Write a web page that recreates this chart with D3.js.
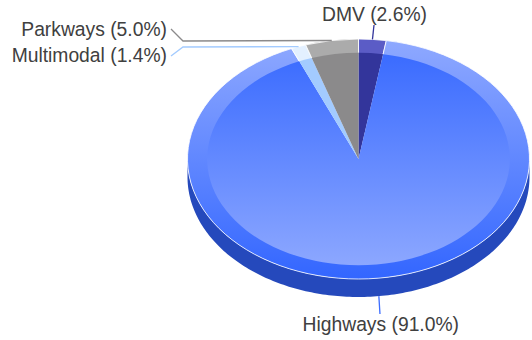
<!DOCTYPE html>
<html>
<head>
<meta charset="utf-8">
<script src="https://cdn.jsdelivr.net/npm/d3@7/dist/d3.min.js"></script>
<style>
  html, body { margin: 0; padding: 0; background: #fff; }
  svg { display: block; }
  text { font-family: "Liberation Sans", Arial, sans-serif; font-size: 19.3px; fill: #404040; }
</style>
</head>
<body>
<div id="chart"></div>
<script>
// values are in percent, clockwise from 12 o'clock
var categories = ["DMV", "Highways", "Multimodal", "Parkways"];
var shares = [2.6, 91.0, 1.4, 5.0];

var topColors = ["#5b5cc6", null, "#e3f0ff", "#ababab"];
var innerColors = ["#33359b", null, "#a3cbff", "#8b8a8b"];
var lineColors = ["#33359b", "#3d6dff", "#a3cbff", "#8b8a8b"];

var width = 532, height = 340;
var cx = 358.5, cy = 159, rx = 171, ry = 120, depth = 18, bevel = 0.885;

var svg = d3.select("#chart").append("svg")
    .attr("width", width)
    .attr("height", height);

// gradients for the big slice, rim runs opposite to the inner part
var defs = svg.append("defs");
function addGradient(id, c0, c1, y0, y1) {
  var g = defs.append("linearGradient")
      .attr("id", id)
      .attr("gradientUnits", "userSpaceOnUse")
      .attr("x1", 0).attr("x2", 0)
      .attr("y1", y0).attr("y2", y1);
  g.append("stop").attr("offset", 0).attr("stop-color", c0);
  g.append("stop").attr("offset", 1).attr("stop-color", c1);
}
// coordinates are the ones inside the squashed group
addGradient("rimGrad", "#8fa9ff", "#3366ff", -rx, rx);
addGradient("innerGrad", "#3a6bff", "#8ca7ff", -rx * bevel, rx * bevel);

var pie = d3.pie().sort(null).value(function(d) { return d; });
var arcs = pie(shares);

// side wall, only the front half of the ellipse shows
var wall = d3.area()
    .x(function(t) { return cx + rx * Math.cos(t); })
    .y0(function(t) { return cy + ry * Math.sin(t); })
    .y1(function(t) { return cy + depth + ry * Math.sin(t); });

svg.append("path")
    .attr("d", wall(d3.range(0, 181).map(function(a) { return a * Math.PI / 180; })))
    .attr("fill", "#2549bc");

// pie is drawn as a circle and squashed to the tilt
var tilt = svg.append("g")
    .attr("transform", "translate(" + cx + "," + cy + ") scale(1," + (ry / rx) + ")");

var outerArc = d3.arc().innerRadius(0).outerRadius(rx);
var innerArc = d3.arc().innerRadius(0).outerRadius(rx * bevel);

tilt.selectAll(".rim")
    .data(arcs)
    .enter().append("path")
    .attr("class", "rim")
    .attr("d", outerArc)
    .attr("fill", function(d, i) { return topColors[i] || "url(#rimGrad)"; })
    .attr("stroke", "#fff")
    .attr("stroke-width", 0.8)
    .attr("vector-effect", "non-scaling-stroke");

tilt.selectAll(".inner")
    .data(arcs)
    .enter().append("path")
    .attr("class", "inner")
    .attr("d", innerArc)
    .attr("fill", function(d, i) { return innerColors[i] || "url(#innerGrad)"; });

// leader lines and labels
var labelPos = [
  {x: 427, y: 21, elbow: null, end: [374, 25]},
  {x: 459, y: 331, elbow: null, end: [380, 314]},
  {x: 167, y: 62, elbow: [183, 47], end: [171, 56]},
  {x: 167, y: 36, elbow: [183, 41], end: [171, 29]}
];

var lineGen = d3.line();
arcs.forEach(function(d, i) {
  var mid = (d.startAngle + d.endAngle) / 2;
  var px = cx + rx * Math.sin(mid);
  var py = cy - ry * Math.cos(mid);
  if (Math.cos(mid) < 0) py += depth;
  var lab = labelPos[i];
  var pts = [[px, py]];
  if (lab.elbow) pts.push(lab.elbow);
  pts.push(lab.end);
  svg.append("path")
      .attr("d", lineGen(pts))
      .attr("fill", "none")
      .attr("stroke", lineColors[i])
      .attr("stroke-width", 1.3);
  svg.append("text")
      .attr("x", lab.x)
      .attr("y", lab.y)
      .attr("text-anchor", "end")
      .text(categories[i] + " (" + d3.format(".1f")(shares[i]) + "%)");
});
</script>
</body>
</html>
